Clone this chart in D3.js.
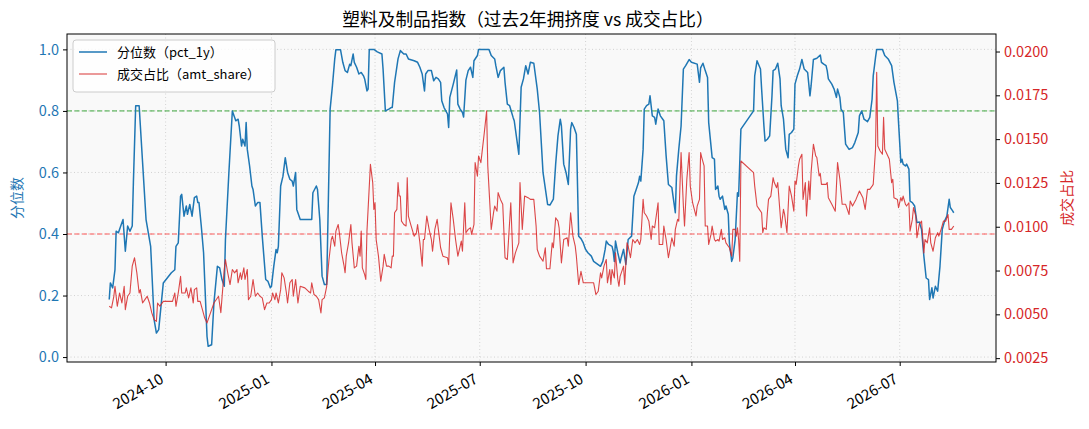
<!DOCTYPE html>
<html><head><meta charset="utf-8">
<script src="https://cdn.jsdelivr.net/npm/d3@7"></script>
<style>
body{margin:0;background:#fff;}
text{font-family:"Noto Sans CJK SC","DejaVu Sans",sans-serif;}
</style></head>
<body><svg id="c" width="1089" height="429"></svg>
<script>
const chartTitle = "塑料及制品指数（过去2年拥挤度 vs 成交占比）";
const leftLabel = "分位数";
const rightLabel = "成交占比";
const legendLabels = ["分位数（pct_1y）", "成交占比（amt_share）"];
const leftTicks = [0.0, 0.2, 0.4, 0.6, 0.8, 1.0];
const rightTicks = [0.0025, 0.0050, 0.0075, 0.0100, 0.0125, 0.0150, 0.0175, 0.0200];
const refLines = [0.8, 0.4];

const pctDates = ["2024-08-13","2024-08-14","2024-08-16","2024-08-18","2024-08-19","2024-08-21","2024-08-23","2024-08-25","2024-08-27","2024-08-29","2024-08-31","2024-09-02","2024-09-03","2024-09-05","2024-09-08","2024-09-11","2024-09-14","2024-09-18","2024-09-21","2024-09-23","2024-09-25","2024-09-29","2024-10-06","2024-10-09","2024-10-10","2024-10-12","2024-10-14","2024-10-15","2024-10-17","2024-10-19","2024-10-20","2024-10-22","2024-10-24","2024-10-26","2024-10-28","2024-10-29","2024-10-30","2024-11-01","2024-11-03","2024-11-06","2024-11-07","2024-11-10","2024-11-12","2024-11-15","2024-11-17","2024-11-19","2024-11-21","2024-11-22","2024-11-25","2024-11-28","2024-11-30","2024-12-01","2024-12-03","2024-12-04","2024-12-06","2024-12-07","2024-12-09","2024-12-10","2024-12-11","2024-12-13","2024-12-15","2024-12-16","2024-12-18","2024-12-20","2024-12-22","2024-12-24","2024-12-27","2024-12-29","2024-12-31","2025-01-01","2025-01-03","2025-01-05","2025-01-06","2025-01-07","2025-01-09","2025-01-11","2025-01-13","2025-01-15","2025-01-17","2025-01-19","2025-01-20","2025-01-22","2025-01-23","2025-01-26","2025-02-05","2025-02-06","2025-02-09","2025-02-10","2025-02-12","2025-02-14","2025-02-16","2025-02-18","2025-02-21","2025-02-23","2025-02-25","2025-02-26","2025-03-02","2025-03-04","2025-03-06","2025-03-08","2025-03-10","2025-03-11","2025-03-13","2025-03-14","2025-03-16","2025-03-18","2025-03-20","2025-03-22","2025-03-23","2025-03-25","2025-03-26","2025-03-27","2025-03-31","2025-04-03","2025-04-07","2025-04-08","2025-04-10","2025-04-13","2025-04-15","2025-04-16","2025-04-18","2025-04-21","2025-04-23","2025-04-26","2025-04-28","2025-04-30","2025-05-05","2025-05-08","2025-05-10","2025-05-12","2025-05-14","2025-05-15","2025-05-17","2025-05-20","2025-05-22","2025-05-24","2025-05-26","2025-05-28","2025-05-29","2025-05-31","2025-06-03","2025-06-04","2025-06-05","2025-06-08","2025-06-11","2025-06-12","2025-06-14","2025-06-16","2025-06-17","2025-06-19","2025-06-21","2025-06-23","2025-06-25","2025-06-26","2025-06-29","2025-06-30","2025-07-09","2025-07-11","2025-07-14","2025-07-15","2025-07-17","2025-07-19","2025-07-22","2025-07-23","2025-07-25","2025-07-27","2025-07-30","2025-07-31","2025-08-01","2025-08-04","2025-08-06","2025-08-08","2025-08-10","2025-08-12","2025-08-14","2025-08-17","2025-08-20","2025-08-22","2025-08-25","2025-08-29","2025-08-31","2025-09-03","2025-09-05","2025-09-07","2025-09-09","2025-09-10","2025-09-12","2025-09-14","2025-09-16","2025-09-18","2025-09-19","2025-09-21","2025-09-23","2025-09-25","2025-09-27","2025-09-29","2025-10-01","2025-10-03","2025-10-06","2025-10-08","2025-10-11","2025-10-14","2025-10-16","2025-10-18","2025-10-19","2025-10-21","2025-10-24","2025-10-25","2025-10-26","2025-10-27","2025-10-29","2025-10-31","2025-11-01","2025-11-03","2025-11-05","2025-11-06","2025-11-07","2025-11-10","2025-11-12","2025-11-14","2025-11-16","2025-11-17","2025-11-18","2025-11-20","2025-11-21","2025-11-23","2025-11-25","2025-11-26","2025-11-28","2025-11-30","2025-12-01","2025-12-03","2025-12-05","2025-12-08","2025-12-10","2025-12-12","2025-12-15","2025-12-16","2025-12-18","2025-12-19","2025-12-21","2025-12-23","2025-12-25","2025-12-27","2025-12-30","2026-01-01","2026-01-06","2026-01-08","2026-01-09","2026-01-11","2026-01-13","2026-01-15","2026-01-16","2026-01-19","2026-01-21","2026-01-22","2026-01-24","2026-01-25","2026-01-26","2026-01-28","2026-01-30","2026-01-31","2026-02-02","2026-02-03","2026-02-05","2026-02-06","2026-02-08","2026-02-10","2026-02-11","2026-02-13","2026-02-24","2026-02-25","2026-02-27","2026-03-02","2026-03-03","2026-03-05","2026-03-06","2026-03-08","2026-03-10","2026-03-12","2026-03-13","2026-03-15","2026-03-17","2026-03-19","2026-03-20","2026-03-22","2026-03-24","2026-03-26","2026-03-27","2026-03-29","2026-03-31","2026-04-01","2026-04-03","2026-04-05","2026-04-07","2026-04-09","2026-04-12","2026-04-14","2026-04-15","2026-04-17","2026-04-20","2026-04-23","2026-04-24","2026-04-26","2026-04-28","2026-04-29","2026-04-30","2026-05-03","2026-05-05","2026-05-07","2026-05-08","2026-05-10","2026-05-11","2026-05-13","2026-05-15","2026-05-18","2026-05-21","2026-05-23","2026-05-26","2026-05-27","2026-05-29","2026-05-31","2026-06-03","2026-06-05","2026-06-07","2026-06-08","2026-06-10","2026-06-11","2026-06-16","2026-06-18","2026-06-21","2026-06-24","2026-06-26","2026-06-29","2026-06-30","2026-07-02","2026-07-03","2026-07-04","2026-07-06","2026-07-07","2026-07-09","2026-07-10","2026-07-12","2026-07-14","2026-07-16","2026-07-18","2026-07-20","2026-07-22","2026-07-24","2026-07-26","2026-07-27","2026-07-29","2026-07-30","2026-08-01","2026-08-03","2026-08-05","2026-08-07","2026-08-09","2026-08-11","2026-08-13","2026-08-14","2026-08-16","2026-08-17"];
const pctValues = [0.187,0.241,0.225,0.284,0.409,0.404,0.426,0.447,0.344,0.426,0.409,0.426,0.567,0.817,0.817,0.632,0.447,0.360,0.122,0.078,0.089,0.241,0.274,0.284,0.360,0.371,0.523,0.529,0.458,0.491,0.464,0.496,0.458,0.518,0.523,0.502,0.502,0.426,0.339,0.067,0.035,0.040,0.176,0.295,0.290,0.252,0.230,0.382,0.600,0.800,0.779,0.768,0.773,0.751,0.686,0.708,0.686,0.762,0.675,0.621,0.556,0.545,0.491,0.502,0.502,0.393,0.252,0.246,0.225,0.230,0.295,0.350,0.339,0.360,0.556,0.588,0.648,0.600,0.578,0.572,0.556,0.600,0.480,0.447,0.447,0.534,0.556,0.545,0.447,0.263,0.236,0.236,0.806,0.882,0.969,0.999,0.999,0.958,0.931,0.925,0.952,0.947,0.985,0.958,0.942,0.920,0.925,0.914,0.904,0.865,0.871,1.000,1.000,0.992,0.985,0.936,0.800,0.806,0.811,0.811,0.893,0.969,0.996,0.985,0.985,0.969,0.963,0.958,0.942,0.920,0.865,0.920,0.931,0.931,0.898,0.909,0.904,0.893,0.833,0.811,0.790,0.746,0.844,0.887,0.933,0.822,0.806,0.795,0.780,0.900,0.931,0.942,0.909,0.963,0.980,1.000,1.000,0.980,0.969,0.947,0.909,0.931,0.942,0.893,0.822,0.817,0.779,0.768,0.741,0.659,0.877,0.904,0.947,0.920,0.958,0.955,0.871,0.795,0.600,0.496,0.494,0.513,0.627,0.719,0.773,0.751,0.627,0.600,0.561,0.741,0.762,0.746,0.724,0.393,0.385,0.371,0.350,0.339,0.328,0.311,0.303,0.295,0.311,0.350,0.377,0.366,0.360,0.344,0.311,0.377,0.339,0.306,0.323,0.350,0.301,0.339,0.382,0.393,0.523,0.545,0.567,0.588,0.572,0.675,0.806,0.817,0.822,0.849,0.784,0.779,0.757,0.806,0.784,0.768,0.654,0.561,0.551,0.523,0.469,0.588,0.675,0.751,0.936,0.947,0.967,0.958,0.952,0.893,0.940,0.955,0.931,0.909,0.762,0.648,0.643,0.545,0.556,0.523,0.513,0.523,0.480,0.491,0.464,0.371,0.311,0.323,0.382,0.534,0.523,0.741,0.800,0.914,0.963,0.936,0.871,0.751,0.702,0.708,0.719,0.849,0.931,0.936,0.955,0.904,0.817,0.773,0.675,0.648,0.724,0.730,0.741,0.887,0.914,0.936,0.967,0.936,0.925,0.849,0.882,0.967,0.971,0.982,0.958,0.952,0.947,0.931,0.904,0.887,0.871,0.844,0.871,0.844,0.806,0.795,0.692,0.675,0.681,0.697,0.730,0.784,0.800,0.773,0.765,0.779,0.838,0.914,0.974,1.000,1.000,0.980,0.969,0.947,0.893,0.833,0.762,0.632,0.643,0.627,0.621,0.627,0.611,0.507,0.502,0.491,0.437,0.439,0.415,0.328,0.257,0.252,0.187,0.225,0.192,0.230,0.214,0.295,0.415,0.442,0.458,0.513,0.486,0.475,0.469];

const shareDates = ["2024-08-13","2024-08-15","2024-08-17","2024-08-18","2024-08-20","2024-08-22","2024-08-24","2024-08-26","2024-08-27","2024-08-29","2024-08-31","2024-09-02","2024-09-04","2024-09-06","2024-09-08","2024-09-09","2024-09-11","2024-09-13","2024-09-15","2024-09-17","2024-09-19","2024-09-21","2024-09-23","2024-09-24","2024-09-26","2024-09-29","2024-10-07","2024-10-09","2024-10-10","2024-10-12","2024-10-14","2024-10-15","2024-10-18","2024-10-19","2024-10-21","2024-10-23","2024-10-25","2024-10-26","2024-10-28","2024-10-29","2024-10-31","2024-11-02","2024-11-04","2024-11-06","2024-11-09","2024-11-12","2024-11-16","2024-11-18","2024-11-21","2024-11-22","2024-11-24","2024-11-26","2024-11-28","2024-11-30","2024-12-02","2024-12-03","2024-12-05","2024-12-06","2024-12-08","2024-12-09","2024-12-11","2024-12-12","2024-12-14","2024-12-16","2024-12-18","2024-12-20","2024-12-22","2024-12-24","2024-12-26","2024-12-28","2024-12-30","2025-01-01","2025-01-02","2025-01-04","2025-01-05","2025-01-07","2025-01-09","2025-01-10","2025-01-12","2025-01-14","2025-01-15","2025-01-17","2025-01-19","2025-01-20","2025-01-22","2025-01-24","2025-01-26","2025-01-30","2025-02-02","2025-02-04","2025-02-05","2025-02-07","2025-02-09","2025-02-11","2025-02-13","2025-02-14","2025-02-16","2025-02-18","2025-02-20","2025-02-22","2025-02-23","2025-02-25","2025-02-26","2025-02-28","2025-03-01","2025-03-03","2025-03-05","2025-03-06","2025-03-07","2025-03-09","2025-03-11","2025-03-12","2025-03-14","2025-03-16","2025-03-18","2025-03-19","2025-03-20","2025-03-21","2025-03-23","2025-03-24","2025-03-25","2025-03-28","2025-03-30","2025-03-31","2025-04-01","2025-04-02","2025-04-04","2025-04-06","2025-04-08","2025-04-09","2025-04-11","2025-04-13","2025-04-15","2025-04-16","2025-04-17","2025-04-18","2025-04-20","2025-04-21","2025-04-22","2025-04-23","2025-04-24","2025-04-26","2025-04-28","2025-04-29","2025-04-30","2025-05-02","2025-05-05","2025-05-07","2025-05-08","2025-05-10","2025-05-12","2025-05-13","2025-05-14","2025-05-16","2025-05-18","2025-05-20","2025-05-21","2025-05-23","2025-05-25","2025-05-28","2025-05-30","2025-06-03","2025-06-04","2025-06-06","2025-06-08","2025-06-10","2025-06-12","2025-06-14","2025-06-15","2025-06-16","2025-06-18","2025-06-19","2025-06-21","2025-06-23","2025-06-24","2025-06-26","2025-06-27","2025-06-29","2025-06-30","2025-07-02","2025-07-03","2025-07-05","2025-07-07","2025-07-08","2025-07-11","2025-07-13","2025-07-14","2025-07-16","2025-07-17","2025-07-19","2025-07-21","2025-07-23","2025-07-25","2025-07-28","2025-07-29","2025-07-30","2025-08-01","2025-08-04","2025-08-05","2025-08-07","2025-08-09","2025-08-12","2025-08-14","2025-08-17","2025-08-19","2025-08-20","2025-08-22","2025-08-25","2025-08-27","2025-08-28","2025-08-31","2025-09-02","2025-09-03","2025-09-05","2025-09-07","2025-09-08","2025-09-10","2025-09-12","2025-09-15","2025-09-16","2025-09-18","2025-09-20","2025-09-22","2025-09-23","2025-09-25","2025-09-27","2025-09-29","2025-10-01","2025-10-08","2025-10-10","2025-10-12","2025-10-14","2025-10-15","2025-10-17","2025-10-19","2025-10-20","2025-10-22","2025-10-23","2025-10-24","2025-10-26","2025-10-27","2025-10-29","2025-10-30","2025-10-31","2025-11-03","2025-11-04","2025-11-06","2025-11-07","2025-11-09","2025-11-11","2025-11-13","2025-11-15","2025-11-17","2025-11-18","2025-11-20","2025-11-21","2025-11-23","2025-11-25","2025-11-27","2025-11-28","2025-11-30","2025-12-03","2025-12-04","2025-12-07","2025-12-08","2025-12-10","2025-12-12","2025-12-13","2025-12-15","2025-12-17","2025-12-18","2025-12-20","2025-12-21","2025-12-23","2025-12-25","2025-12-26","2025-12-28","2025-12-30","2025-12-31","2026-01-02","2026-01-05","2026-01-06","2026-01-08","2026-01-09","2026-01-10","2026-01-12","2026-01-13","2026-01-15","2026-01-16","2026-01-18","2026-01-19","2026-01-21","2026-01-22","2026-01-24","2026-01-25","2026-01-27","2026-01-28","2026-01-30","2026-01-31","2026-02-03","2026-02-05","2026-02-06","2026-02-08","2026-02-09","2026-02-10","2026-02-11","2026-02-12","2026-02-13","2026-02-24","2026-02-25","2026-02-27","2026-03-01","2026-03-03","2026-03-04","2026-03-05","2026-03-07","2026-03-08","2026-03-09","2026-03-11","2026-03-13","2026-03-14","2026-03-16","2026-03-17","2026-03-19","2026-03-20","2026-03-22","2026-03-23","2026-03-25","2026-03-27","2026-03-29","2026-03-31","2026-04-01","2026-04-02","2026-04-04","2026-04-05","2026-04-07","2026-04-08","2026-04-10","2026-04-11","2026-04-13","2026-04-14","2026-04-15","2026-04-17","2026-04-19","2026-04-20","2026-04-22","2026-04-23","2026-04-24","2026-04-28","2026-04-29","2026-04-30","2026-05-03","2026-05-06","2026-05-08","2026-05-10","2026-05-12","2026-05-15","2026-05-18","2026-05-19","2026-05-21","2026-05-24","2026-05-27","2026-05-30","2026-06-01","2026-06-03","2026-06-05","2026-06-07","2026-06-08","2026-06-10","2026-06-11","2026-06-12","2026-06-14","2026-06-16","2026-06-17","2026-06-18","2026-06-20","2026-06-22","2026-06-24","2026-06-25","2026-06-26","2026-06-29","2026-06-30","2026-07-02","2026-07-03","2026-07-04","2026-07-06","2026-07-07","2026-07-09","2026-07-10","2026-07-12","2026-07-13","2026-07-15","2026-07-16","2026-07-18","2026-07-20","2026-07-22","2026-07-23","2026-07-25","2026-07-27","2026-07-28","2026-07-30","2026-08-01","2026-08-03","2026-08-04","2026-08-06","2026-08-08","2026-08-10","2026-08-12","2026-08-13","2026-08-15","2026-08-17"];
const shareValues = [0.00546,0.00537,0.00603,0.00660,0.00546,0.00622,0.00565,0.00660,0.00527,0.00603,0.00622,0.00775,0.00823,0.00737,0.00622,0.00641,0.00565,0.00584,0.00603,0.00565,0.00508,0.00470,0.00460,0.00565,0.00546,0.00574,0.00574,0.00622,0.00546,0.00622,0.00717,0.00622,0.00622,0.00651,0.00594,0.00651,0.00565,0.00641,0.00651,0.00574,0.00574,0.00527,0.00479,0.00451,0.00508,0.00565,0.00603,0.00510,0.00760,0.00813,0.00737,0.00670,0.00756,0.00737,0.00756,0.00680,0.00737,0.00699,0.00765,0.00699,0.00756,0.00584,0.00603,0.00699,0.00603,0.00622,0.00603,0.00594,0.00527,0.00565,0.00565,0.00584,0.00622,0.00584,0.00622,0.00565,0.00641,0.00737,0.00708,0.00622,0.00565,0.00680,0.00699,0.00603,0.00699,0.00565,0.00660,0.00651,0.00632,0.00622,0.00680,0.00613,0.00603,0.00584,0.00508,0.00584,0.00594,0.00660,0.00813,0.00927,0.00946,0.00889,0.00975,0.01013,0.00966,0.00850,0.00780,0.00737,0.00832,0.00908,0.01013,0.00908,0.00765,0.00775,0.00889,0.00832,0.00975,0.00765,0.00727,0.00699,0.00975,0.01356,0.01252,0.01099,0.01137,0.00927,0.00832,0.00689,0.00775,0.00842,0.00775,0.00775,0.00765,0.00832,0.00832,0.01080,0.01099,0.01252,0.01175,0.01175,0.01032,0.01013,0.01004,0.01280,0.01061,0.01013,0.00946,0.00966,0.01013,0.00908,0.00775,0.00927,0.00927,0.01061,0.00985,0.00927,0.00860,0.00985,0.01042,0.00880,0.00832,0.00823,0.00784,0.01137,0.01042,0.00927,0.00832,0.00889,0.00918,0.00860,0.01137,0.00966,0.00985,0.00994,0.00956,0.01013,0.01366,0.01289,0.01404,0.01366,0.01423,0.01538,0.01661,0.01347,0.00985,0.01080,0.01118,0.01089,0.01195,0.01156,0.01128,0.00823,0.00813,0.01137,0.00966,0.00794,0.00851,0.00908,0.01252,0.00985,0.01175,0.01166,0.01156,0.01156,0.01004,0.00870,0.00832,0.00803,0.00880,0.00760,0.00760,0.00908,0.00880,0.01051,0.01032,0.00994,0.00794,0.00927,0.00937,0.00889,0.01080,0.00946,0.00889,0.00832,0.00670,0.00746,0.00680,0.00680,0.00680,0.00613,0.00632,0.00737,0.00708,0.00775,0.00813,0.00680,0.00756,0.00670,0.00756,0.00708,0.00851,0.00699,0.00660,0.00717,0.00775,0.00670,0.00908,0.00889,0.00823,0.00927,0.00908,0.00927,0.00899,0.00927,0.01156,0.01080,0.01061,0.01032,0.00927,0.01004,0.00994,0.01137,0.00899,0.00899,0.01004,0.00927,0.00823,0.00860,0.00937,0.00889,0.00985,0.01042,0.01032,0.01423,0.01118,0.01004,0.01271,0.01423,0.01232,0.01137,0.01061,0.01118,0.01156,0.01423,0.01395,0.01347,0.01004,0.01004,0.00899,0.00956,0.01004,0.00927,0.00918,0.00927,0.00918,0.00985,0.00927,0.00937,0.00908,0.00880,0.00832,0.00985,0.00985,0.00946,0.00994,0.00927,0.00803,0.01375,0.01309,0.01232,0.01118,0.01099,0.01080,0.00966,0.00994,0.00985,0.01080,0.01156,0.01175,0.01280,0.01252,0.01223,0.01252,0.01080,0.00994,0.01099,0.01070,0.00966,0.01232,0.01175,0.01089,0.01261,0.01242,0.01347,0.01385,0.01414,0.01156,0.01252,0.01061,0.01261,0.01156,0.01309,0.01471,0.01404,0.01395,0.01290,0.01304,0.01242,0.01242,0.01252,0.01166,0.01128,0.01089,0.01366,0.01271,0.01128,0.01128,0.01070,0.01147,0.01118,0.01156,0.01204,0.01166,0.01099,0.01213,0.01213,0.01232,0.01242,0.01442,0.01881,0.01461,0.01432,0.01414,0.01624,0.01442,0.01414,0.01385,0.01252,0.01271,0.01166,0.01156,0.01109,0.01166,0.01147,0.01175,0.01128,0.01118,0.01137,0.00975,0.01042,0.01109,0.01061,0.00937,0.01013,0.01032,0.00851,0.00927,0.00908,0.00994,0.00908,0.00860,0.00937,0.00966,0.00946,0.00985,0.01032,0.01032,0.01070,0.00985,0.00985,0.01004];

const svg = d3.select("#c");
const m = {left: 67, right: 996, top: 34, bottom: 362};
const parse = d3.timeParse("%Y-%m-%d");
const pct = pctDates.map((d, i) => ({date: parse(d), v: pctValues[i]}));
const share = shareDates.map((d, i) => ({date: parse(d), v: shareValues[i]}));

const allDates = pct.map(d => d.date).concat(share.map(d => d.date));
const ext = d3.extent(allDates);
const pad = (ext[1] - ext[0]) * 0.05;
const x = d3.scaleTime().domain([new Date(+ext[0] - pad), new Date(+ext[1] + pad)]).range([m.left, m.right]);
const yL = d3.scaleLinear().domain([-0.016, 1.05]).range([m.bottom, m.top]);
const yR = d3.scaleLinear().domain([0.00228, 0.0210]).range([m.bottom, m.top]);

svg.append("rect").attr("x", m.left).attr("y", m.top).attr("width", m.right - m.left).attr("height", m.bottom - m.top).attr("fill", "#f9f9f9");

const xTicks = d3.timeMonth.every(3).range(x.domain()[0], x.domain()[1]);
const grid = svg.append("g").attr("stroke", "#c8c8c8").attr("stroke-width", 0.8).attr("stroke-dasharray", "1,2.5");
grid.selectAll(".gx").data(xTicks).join("line").attr("x1", d => x(d)).attr("x2", d => x(d)).attr("y1", m.top).attr("y2", m.bottom);
grid.selectAll(".gy").data(leftTicks).join("line").attr("x1", m.left).attr("x2", m.right).attr("y1", d => yL(d)).attr("y2", d => yL(d));

svg.append("line").attr("x1", m.left).attr("x2", m.right).attr("y1", yL(refLines[0])).attr("y2", yL(refLines[0]))
  .attr("stroke", "#2ca02c").attr("stroke-width", 1).attr("stroke-dasharray", "5,2.5").attr("opacity", 0.9);
svg.append("line").attr("x1", m.left).attr("x2", m.right).attr("y1", yL(refLines[1])).attr("y2", yL(refLines[1]))
  .attr("stroke", "#ff3333").attr("stroke-width", 1).attr("stroke-dasharray", "5,2.5").attr("opacity", 0.8);

const lineL = d3.line().x(d => x(d.date)).y(d => yL(d.v));
const lineR = d3.line().x(d => x(d.date)).y(d => yR(d.v));
svg.append("path").datum(pct).attr("d", lineL).attr("fill", "none").attr("stroke", "#1f77b4").attr("stroke-width", 1.5).attr("stroke-linejoin", "round");
svg.append("path").datum(share).attr("d", lineR).attr("fill", "none").attr("stroke", "#d62728").attr("stroke-opacity", 0.85).attr("stroke-width", 1.1).attr("stroke-linejoin", "round");

svg.append("rect").attr("x", m.left).attr("y", m.top).attr("width", m.right - m.left).attr("height", m.bottom - m.top).attr("fill", "none").attr("stroke", "#000").attr("stroke-width", 1);

const axL = svg.append("g").attr("transform", `translate(${m.left},0)`)
  .call(d3.axisLeft(yL).tickValues(leftTicks).tickFormat(d3.format(".1f")).tickSize(4).tickPadding(4));
axL.select(".domain").remove();
axL.selectAll("text").attr("fill", "#1f77b4").attr("font-size", 14.5);
const axR = svg.append("g").attr("transform", `translate(${m.right},0)`)
  .call(d3.axisRight(yR).tickValues(rightTicks).tickFormat(d3.format(".4f")).tickSize(4).tickPadding(4));
axR.select(".domain").remove();
axR.selectAll("text").attr("fill", "#d62728").attr("font-size", 14.5);
const axB = svg.append("g").attr("transform", `translate(0,${m.bottom})`)
  .call(d3.axisBottom(x).tickValues(xTicks).tickFormat(d3.timeFormat("%Y-%m")).tickSize(4));
axB.select(".domain").remove();
axB.selectAll("text").attr("font-size", 15).attr("fill", "#000")
  .attr("text-anchor", "end").attr("x", 0).attr("y", 0).attr("dx", 0).attr("dy", 0)
  .attr("transform", "translate(-1.5,20) rotate(-30)");
svg.selectAll(".tick line").attr("stroke", "#000");

svg.append("text").attr("x", 528).attr("y", 26).attr("text-anchor", "middle").attr("font-size", 17.7).attr("fill", "#000").text(chartTitle);
svg.append("text").attr("transform", `translate(22,${(m.top + m.bottom) / 2}) rotate(-90)`).attr("text-anchor", "middle").attr("font-size", 14).attr("fill", "#1f77b4").text(leftLabel);
svg.append("text").attr("transform", `translate(1072,${(m.top + m.bottom) / 2}) rotate(-90)`).attr("text-anchor", "middle").attr("font-size", 14).attr("fill", "#d62728").text(rightLabel);

const lg = svg.append("g");
lg.append("rect").attr("x", 73).attr("y", 40).attr("width", 202).attr("height", 52).attr("rx", 3).attr("fill", "#fff").attr("fill-opacity", 0.8).attr("stroke", "#cccccc");
const legendColors = ["#1f77b4", "#d62728"];
const legendWidths = [1.5, 1.1];
legendLabels.forEach((t, i) => {
  const yy = 52 + i * 22;
  lg.append("line").attr("x1", 79).attr("x2", 107).attr("y1", yy).attr("y2", yy).attr("stroke", legendColors[i]).attr("stroke-width", legendWidths[i]).attr("stroke-opacity", i ? 0.85 : 1);
  lg.append("text").attr("x", 117).attr("y", yy + 4.5).attr("font-size", 13).attr("fill", "#000").text(t);
});
</script></body></html>
